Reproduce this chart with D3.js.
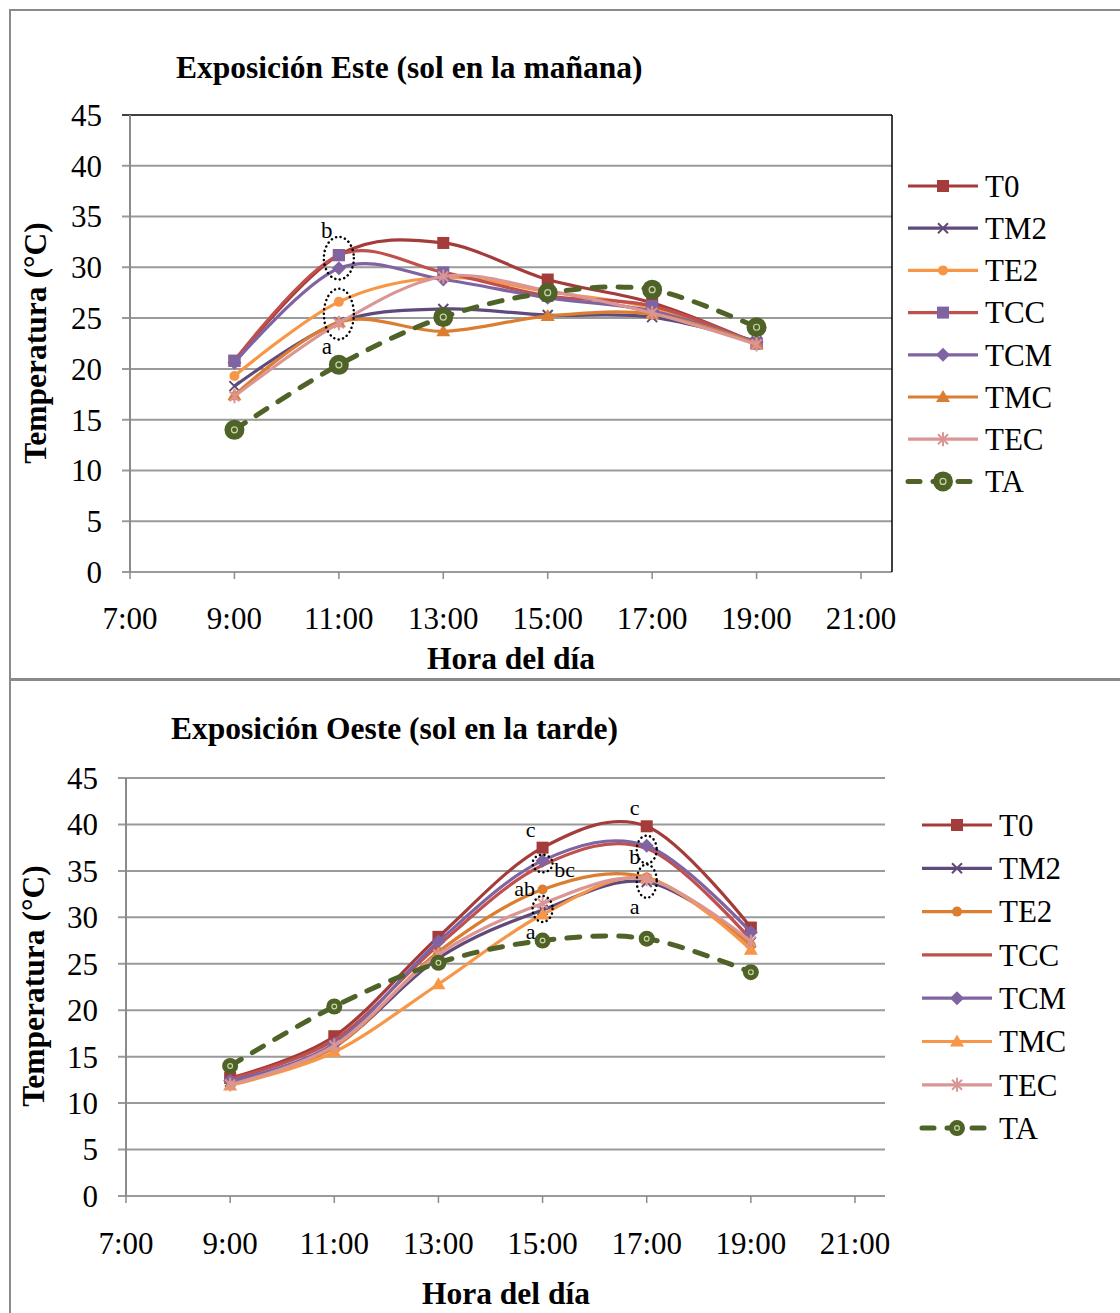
<!DOCTYPE html>
<html><head><meta charset="utf-8">
<script src="https://cdn.jsdelivr.net/npm/d3@7"></script>
<style>body{margin:0;background:#fff}svg{display:block}text{font-family:"Liberation Serif","Times New Roman",serif;fill:#000}</style>
</head><body>
<script>
// ---- data ----
const hours = [9, 11, 13, 15, 17, 19];
const xTicks = [7, 9, 11, 13, 15, 17, 19, 21];
const yTicks = [0, 5, 10, 15, 20, 25, 30, 35, 40, 45];
const seriesNames = ["T0", "TM2", "TE2", "TCC", "TCM", "TMC", "TEC", "TA"];

// Exposición Este
const esteT0  = [20.8, 31.2, 32.4, 28.8, 26.5, 22.5];
const esteTM2 = [18.3, 24.6, 25.9, 25.3, 25.1, 22.7];
const esteTE2 = [19.3, 26.6, 29.0, 27.6, 26.0, 22.5];
const esteTCC = [20.8, 31.2, 29.5, 27.2, 26.2, 22.5];
const esteTCM = [20.6, 29.9, 28.8, 27.0, 25.7, 22.6];
const esteTMC = [17.4, 24.6, 23.7, 25.2, 25.4, 22.5];
const esteTEC = [17.3, 24.5, 29.1, 27.7, 25.5, 22.4];
const esteTA  = [14.0, 20.4, 25.1, 27.5, 27.8, 24.1];

// Exposición Oeste
const oesteT0  = [12.7, 17.2, 27.9, 37.5, 39.8, 28.9];
const oesteTM2 = [12.3, 16.1, 25.6, 30.8, 33.8, 27.3];
const oesteTE2 = [12.4, 16.0, 26.3, 33.0, 34.3, 27.0];
const oesteTCC = [12.6, 16.8, 27.0, 35.6, 37.4, 27.6];
const oesteTCM = [12.4, 16.4, 27.4, 36.1, 37.7, 28.4];
const oesteTMC = [11.9, 15.5, 22.8, 30.3, 34.2, 26.5];
const oesteTEC = [12.0, 16.2, 26.0, 31.5, 34.1, 27.4];
const oesteTA  = [14.0, 20.4, 25.1, 27.5, 27.7, 24.1];

const esteAnnotations = [{t: "b", h: 11, v: 33.7}, {t: "a", h: 11, v: 22.3}];
const oesteAnnotations = [
  {t: "c", h: 15, v: 39.5}, {t: "bc", h: 15, v: 35.2}, {t: "ab", h: 15, v: 33.1}, {t: "a", h: 15, v: 28.5},
  {t: "c", h: 17, v: 41.8}, {t: "b", h: 17, v: 36.6}, {t: "a", h: 17, v: 31.2}
];
const esteEllipses = [{h: 11, v: 30.9, rv: 2.1}, {h: 11, v: 25.4, rv: 2.5}];
const oesteEllipses = [{h: 15, v: 35.8, rv: 0.95}, {h: 15, v: 30.9, rv: 1.4}, {h: 17, v: 37.3, rv: 1.5}, {h: 17, v: 33.9, rv: 1.8}];

const W = 1120, H = 1313;
const svg = d3.select("body").append("svg").attr("width", W).attr("height", H);

// panel borders
svg.append("rect").attr("x", 10).attr("y", 10).attr("width", W + 20).attr("height", 669)
  .attr("fill", "none").attr("stroke", "#8a8a8a").attr("stroke-width", 2);
svg.append("rect").attr("x", 10).attr("y", 680).attr("width", W + 20).attr("height", H)
  .attr("fill", "none").attr("stroke", "#8a8a8a").attr("stroke-width", 2);

function drawChart(cfg) {
  const g = svg.append("g");
  const x = d3.scaleLinear().domain([7, 21]).range([cfg.x0, cfg.x1]);
  const y = d3.scaleLinear().domain([0, 45]).range([cfg.y0, cfg.y1]);

  // gridlines
  g.append("g").selectAll("line").data(yTicks).join("line")
    .attr("x1", cfg.x0 - 8).attr("x2", cfg.right)
    .attr("y1", d => y(d)).attr("y2", d => y(d))
    .attr("stroke", d => (cfg.frame && d === 45) ? "#000" : "#9a9a9a")
    .attr("stroke-width", d => (cfg.frame && d === 45) ? 1.5 : 2);
  if (cfg.frame) {
    g.append("line").attr("x1", cfg.right).attr("x2", cfg.right).attr("y1", y(45)).attr("y2", y(0))
      .attr("stroke", "#000").attr("stroke-width", 1.5);
  }
  // y axis line
  g.append("line").attr("x1", cfg.x0).attr("x2", cfg.x0).attr("y1", y(45)).attr("y2", y(0))
    .attr("stroke", "#8a8a8a").attr("stroke-width", 2);
  // x ticks
  g.append("g").selectAll("line").data(xTicks).join("line")
    .attr("x1", d => x(d)).attr("x2", d => x(d)).attr("y1", y(0)).attr("y2", y(0) + 7)
    .attr("stroke", "#8a8a8a").attr("stroke-width", 1.5);
  // y labels
  g.append("g").selectAll("text").data(yTicks).join("text")
    .attr("x", cfg.x0 - 28).attr("y", d => y(d)).attr("dy", "0.35em")
    .attr("text-anchor", "end").attr("font-size", 31).text(d => d);
  // x labels
  g.append("g").selectAll("text").data(xTicks).join("text")
    .attr("x", d => x(d)).attr("y", cfg.xLabelY).attr("dy", "0.35em")
    .attr("text-anchor", "middle").attr("font-size", 31).text(d => d + ":00");
  // titles
  g.append("text").attr("x", cfg.titleX).attr("y", cfg.titleY).attr("dy", "0.35em")
    .attr("font-size", 31.5).attr("font-weight", "bold").text(cfg.title);
  g.append("text").attr("x", cfg.xTitleX).attr("y", cfg.xTitleY).attr("dy", "0.35em")
    .attr("text-anchor", "middle").attr("font-size", 31.5).attr("font-weight", "bold").text("Hora del día");
  g.append("text").attr("transform", `translate(${cfg.yTitleX},${cfg.yTitleY}) rotate(-90)`)
    .attr("dy", "0.35em").attr("text-anchor", "middle").attr("font-size", 31.5).attr("font-weight", "bold")
    .text("Temperatura (°C)");

  const line = d3.line().x((d, i) => x(hours[i])).y(d => y(d)).curve(d3.curveCatmullRom.alpha(0));

  cfg.series.forEach(s => {
    const p = g.append("path").datum(s.values).attr("d", line)
      .attr("fill", "none").attr("stroke", s.color).attr("stroke-width", s.dash ? 5 : 3.2)
      .attr("stroke-linecap", s.dash ? "round" : "butt");
    if (s.dash) p.attr("stroke-dasharray", "13,13");
    s.values.forEach((v, i) => drawMarker(g, s, x(hours[i]), y(v), cfg.mScale));
  });

  // ellipses & annotations
  cfg.ellipses.forEach(e => {
    g.append("ellipse").attr("cx", x(e.h)).attr("cy", y(e.v))
      .attr("rx", cfg.ellRx).attr("ry", y(0) - y(e.rv))
      .attr("fill", "none").attr("stroke", "#000").attr("stroke-width", 2.5)
      .attr("stroke-dasharray", "0.1,4.5").attr("stroke-linecap", "round");
  });
  cfg.annotations.forEach(a => {
    g.append("text").attr("x", x(a.h) + (a.t === "bc" ? 22 : (a.t === "ab" ? -18 : -12)))
      .attr("y", y(a.v)).attr("dy", "0.35em").attr("text-anchor", "middle")
      .attr("font-size", cfg.annSize).text(a.t);
  });

  // legend
  cfg.series.forEach((s, i) => {
    const ly = cfg.legY + i * cfg.legStep;
    const lg = g.append("g");
    if (s.dash) {
      lg.append("line").attr("x1", cfg.legX).attr("x2", cfg.legX + 70).attr("y1", ly).attr("y2", ly)
        .attr("stroke", s.color).attr("stroke-width", 5).attr("stroke-linecap", "round")
        .attr("stroke-dasharray", "12,13");
    } else {
      lg.append("line").attr("x1", cfg.legX).attr("x2", cfg.legX + 70).attr("y1", ly).attr("y2", ly)
        .attr("stroke", s.color).attr("stroke-width", 3.2);
    }
    drawMarker(lg, s, cfg.legX + 35, ly, cfg.mScale);
    lg.append("text").attr("x", cfg.legX + 77).attr("y", ly).attr("dy", "0.35em")
      .attr("font-size", 31).text(s.name);
  });
}

function drawMarker(g, s, cx, cy, k) {
  const c = s.mColor || s.color;
  switch (s.marker) {
    case "square":
      g.append("rect").attr("x", cx - 6 * k).attr("y", cy - 6 * k).attr("width", 12 * k).attr("height", 12 * k).attr("fill", c);
      break;
    case "x":
      g.append("path").attr("d", `M${cx - 5 * k},${cy - 5 * k}L${cx + 5 * k},${cy + 5 * k}M${cx - 5 * k},${cy + 5 * k}L${cx + 5 * k},${cy - 5 * k}`)
        .attr("stroke", c).attr("stroke-width", 2).attr("fill", "none");
      break;
    case "circle":
      g.append("circle").attr("cx", cx).attr("cy", cy).attr("r", 5 * k).attr("fill", c);
      break;
    case "diamond":
      g.append("path").attr("d", `M${cx},${cy - 7 * k}L${cx + 7 * k},${cy}L${cx},${cy + 7 * k}L${cx - 7 * k},${cy}Z`).attr("fill", c);
      break;
    case "triangle":
      g.append("path").attr("d", `M${cx},${cy - 7 * k}L${cx + 7 * k},${cy + 5 * k}L${cx - 7 * k},${cy + 5 * k}Z`).attr("fill", c);
      break;
    case "star":
      g.append("path").attr("d", `M${cx - 5 * k},${cy - 5 * k}L${cx + 5 * k},${cy + 5 * k}M${cx - 5 * k},${cy + 5 * k}L${cx + 5 * k},${cy - 5 * k}M${cx},${cy - 7 * k}L${cx},${cy + 7 * k}`)
        .attr("stroke", c).attr("stroke-width", 2).attr("fill", "none");
      break;
    case "ring":
      g.append("circle").attr("cx", cx).attr("cy", cy).attr("r", s.ringR).attr("fill", c);
      g.append("circle").attr("cx", cx).attr("cy", cy).attr("r", s.ringR * 0.3).attr("fill", "none")
        .attr("stroke", "#c9d6a8").attr("stroke-width", 1.2);
      break;
    default: break;
  }
}

const C = {
  T0: "#A33C3A", TM2: "#604A7B", orangeL: "#F79646", orangeD: "#DC7E32",
  TCC: "#C0504D", TCM: "#8064A2", TEC: "#DA9694", TA: "#4F6228"
};

drawChart({
  x0: 130, x1: 861, right: 892, y0: 572, y1: 115, frame: true,
  xLabelY: 618, title: "Exposición Este (sol en la mañana)", titleX: 176, titleY: 67,
  xTitleX: 511, xTitleY: 658, yTitleX: 35, yTitleY: 343,
  legX: 908, legY: 186, legStep: 42.2, mScale: 1, ellRx: 15, annSize: 23,
  ellipses: esteEllipses, annotations: esteAnnotations,
  series: [
    {name: seriesNames[0], values: esteT0, color: C.T0, marker: "square"},
    {name: seriesNames[1], values: esteTM2, color: C.TM2, marker: "x"},
    {name: seriesNames[2], values: esteTE2, color: C.orangeL, marker: "circle"},
    {name: seriesNames[3], values: esteTCC, color: C.TCC, marker: "square", mColor: C.TCM},
    {name: seriesNames[4], values: esteTCM, color: C.TCM, marker: "diamond"},
    {name: seriesNames[5], values: esteTMC, color: C.orangeD, marker: "triangle"},
    {name: seriesNames[6], values: esteTEC, color: C.TEC, marker: "star"},
    {name: seriesNames[7], values: esteTA, color: C.TA, marker: "ring", dash: true, ringR: 10}
  ]
});

drawChart({
  x0: 126, x1: 855, right: 885, y0: 1196, y1: 778, frame: false,
  xLabelY: 1243, title: "Exposición Oeste (sol en la tarde)", titleX: 171, titleY: 728,
  xTitleX: 506, xTitleY: 1293, yTitleX: 33, yTitleY: 986,
  legX: 922, legY: 825, legStep: 43.3, mScale: 1, ellRx: 10, annSize: 22,
  ellipses: oesteEllipses, annotations: oesteAnnotations,
  series: [
    {name: seriesNames[0], values: oesteT0, color: C.T0, marker: "square"},
    {name: seriesNames[1], values: oesteTM2, color: C.TM2, marker: "x"},
    {name: seriesNames[2], values: oesteTE2, color: C.orangeD, marker: "circle"},
    {name: seriesNames[3], values: oesteTCC, color: C.TCC, marker: "none"},
    {name: seriesNames[4], values: oesteTCM, color: C.TCM, marker: "diamond"},
    {name: seriesNames[5], values: oesteTMC, color: C.orangeL, marker: "triangle"},
    {name: seriesNames[6], values: oesteTEC, color: C.TEC, marker: "star"},
    {name: seriesNames[7], values: oesteTA, color: C.TA, marker: "ring", dash: true, ringR: 8}
  ]
});
</script>
</body></html>
